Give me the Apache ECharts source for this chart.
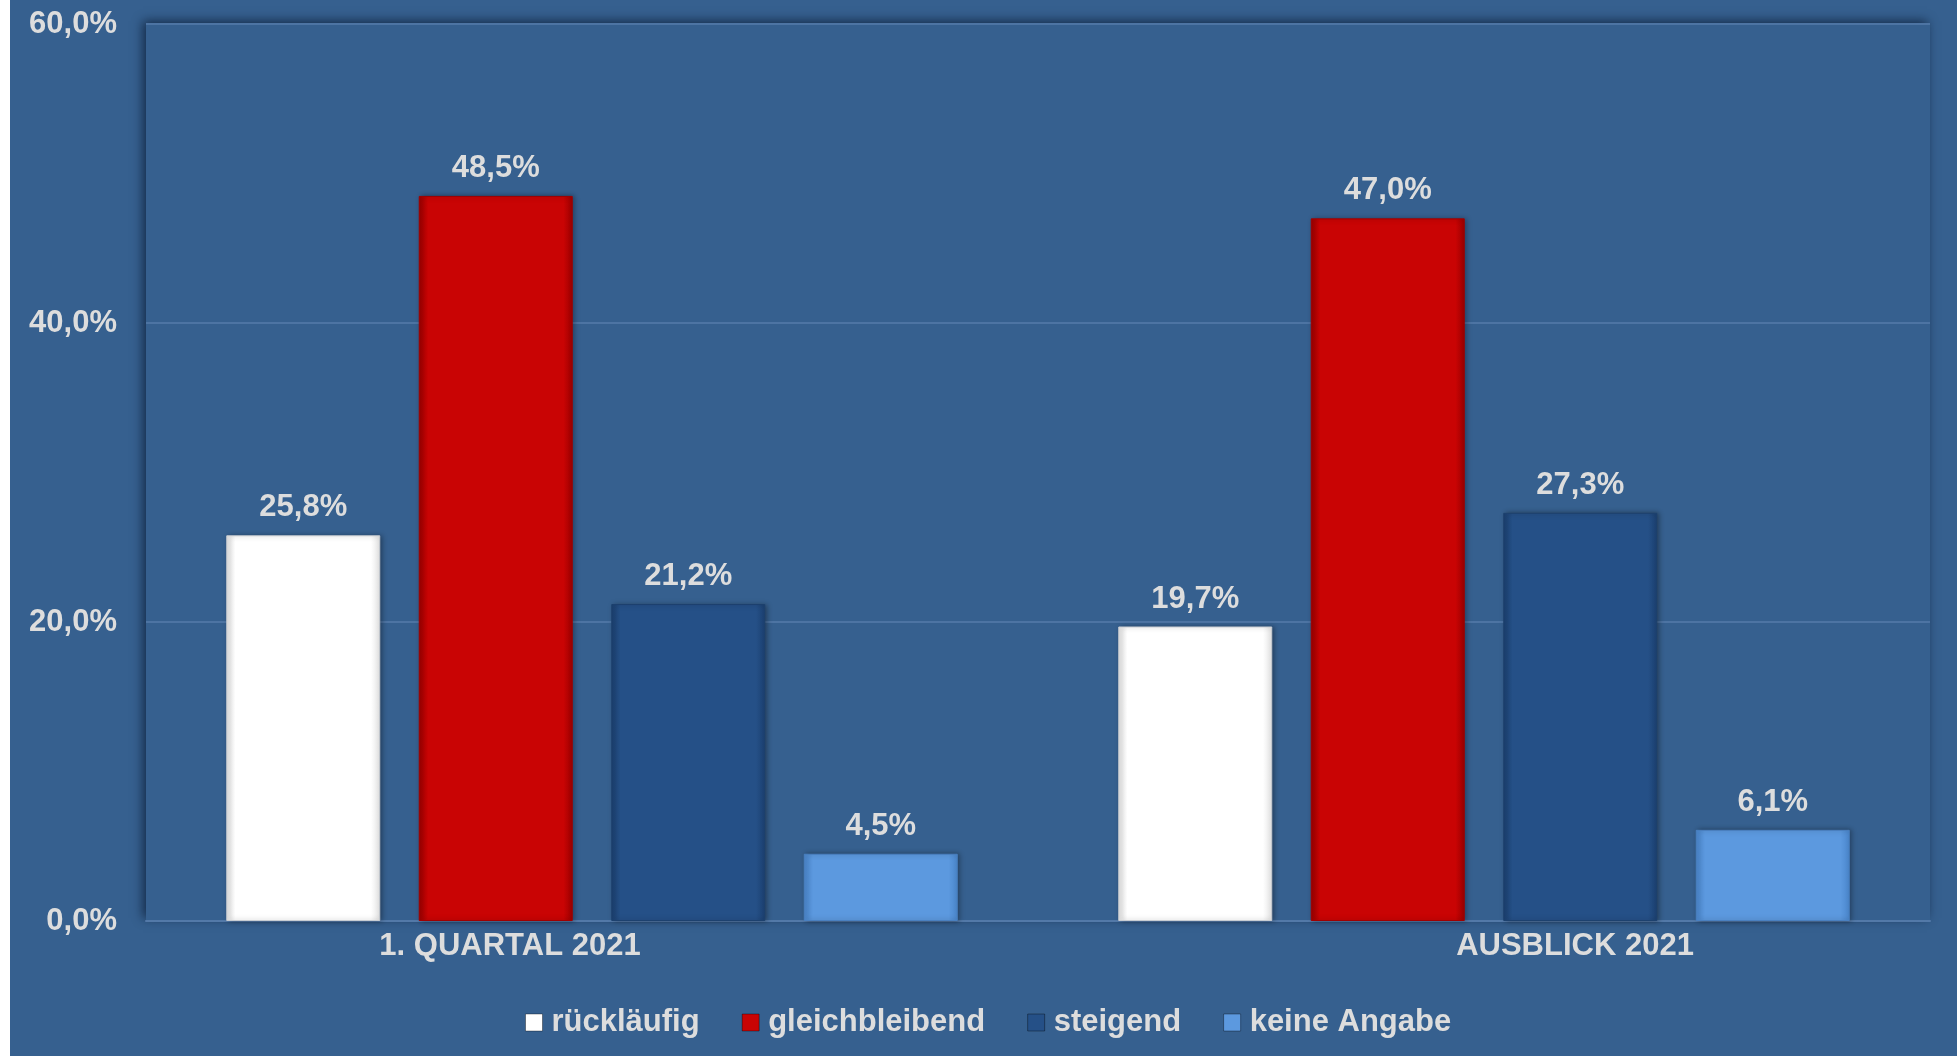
<!DOCTYPE html>
<html>
<head>
<meta charset="utf-8">
<script src="https://cdn.jsdelivr.net/npm/echarts@6/dist/echarts.min.js"></script>
<style>
html,body{margin:0;padding:0;background:#ffffff;width:1957px;height:1056px;overflow:hidden;}
#chart{position:absolute;left:10px;top:0;width:1947px;height:1056px;background:#36608F;}
</style>
</head>
<body>
<div id="chart"></div>
<script>
const categories = ['1. QUARTAL 2021', 'AUSBLICK 2021'];
const seriesNames = ['rückläufig', 'gleichbleibend', 'steigend', 'keine Angabe'];
const ruecklaeufig = [25.8, 19.7];
const gleichbleibend = [48.5, 47.0];
const steigend = [21.2, 27.3];
const keineAngabe = [4.5, 6.1];
const yTicks = [0, 20, 40, 60];

const FONT = "'Liberation Sans', Arial, sans-serif";
const TXT = '#DDDDDD';

function hGrad(edge, mid) {
  return new echarts.graphic.LinearGradient(0, 0, 1, 0, [
    {offset: 0, color: edge}, {offset: 0.06, color: mid},
    {offset: 0.94, color: mid}, {offset: 1, color: edge}
  ]);
}
const styles = [
  {color: hGrad('#E2E2E2', '#FFFFFF'), border: '#C8CCD2', legend: '#FFFFFF'},
  {color: hGrad('#9A0000', '#C90404'), border: '#A00000', legend: '#C90404'},
  {color: hGrad('#1B4070', '#255087'), border: '#1D416E', legend: '#255087'},
  {color: hGrad('#4A86CC', '#5C99DF'), border: '#4A80C0', legend: '#5C99DF'}
];
const values = [ruecklaeufig, gleichbleibend, steigend, keineAngabe];
const fmt = v => v.toFixed(1).replace('.', ',') + '%';

const series = seriesNames.map((name, i) => ({
  name: name,
  type: 'bar',
  data: values[i],
  barWidth: 154,
  barGap: '25%',
  itemStyle: {
    color: styles[i].color,
    borderColor: styles[i].border,
    borderWidth: 1,
    shadowColor: 'rgba(0,0,0,0.35)',
    shadowBlur: 5,
    shadowOffsetX: 2,
    shadowOffsetY: 0
  },
  label: {
    show: true,
    position: 'top',
    distance: 12,
    formatter: p => fmt(p.value),
    color: TXT,
    fontFamily: FONT,
    fontWeight: 'bold',
    fontSize: 31
  }
}));

const chart = echarts.init(document.getElementById('chart'));
chart.setOption({
  backgroundColor: '#36608F',
  animation: false,
  color: styles.map(s => s.legend),
  grid: {
    left: 136, right: 27, top: 24, bottom: 135,
    show: true,
    backgroundColor: '#36608F',
    borderWidth: 0,
    shadowColor: 'rgba(10,25,50,0.75)',
    shadowBlur: 10,
    shadowOffsetX: -3,
    shadowOffsetY: -3
  },
  legend: {
    data: seriesNames,
    left: 510,
    top: 1002,
    icon: 'rect',
    itemWidth: 17,
    itemHeight: 17,
    itemGap: 42,
    itemStyle: {borderColor: 'rgba(0,0,0,0.35)', borderWidth: 1},
    textStyle: {color: TXT, fontFamily: FONT, fontWeight: 'bold', fontSize: 31, padding: [0, 0, 0, 4]}
  },
  xAxis: {
    type: 'category',
    data: categories,
    axisLine: {show: true, lineStyle: {color: '#5379A8', width: 2}},
    axisTick: {show: false},
    axisLabel: {
      margin: 10,
      formatter: (v, idx) => idx === 0 ? '{a|' + v + '}' : '{b|' + v + '}',
      rich: {
        a: {color: TXT, fontFamily: FONT, fontWeight: 'bold', fontSize: 31, padding: [0, 164, 0, 0]},
        b: {color: TXT, fontFamily: FONT, fontWeight: 'bold', fontSize: 31, padding: [0, 0, 0, 182]}
      }
    }
  },
  yAxis: {
    type: 'value',
    min: yTicks[0],
    max: yTicks[yTicks.length - 1],
    interval: 20,
    axisLine: {show: false},
    axisTick: {show: false},
    splitLine: {show: true, lineStyle: {color: '#4D74A3', width: 2}},
    axisLabel: {
      margin: 29,
      formatter: v => fmt(v),
      color: TXT,
      fontFamily: FONT,
      fontWeight: 'bold',
      fontSize: 31
    }
  },
  series: series
});
</script>
</body>
</html>
